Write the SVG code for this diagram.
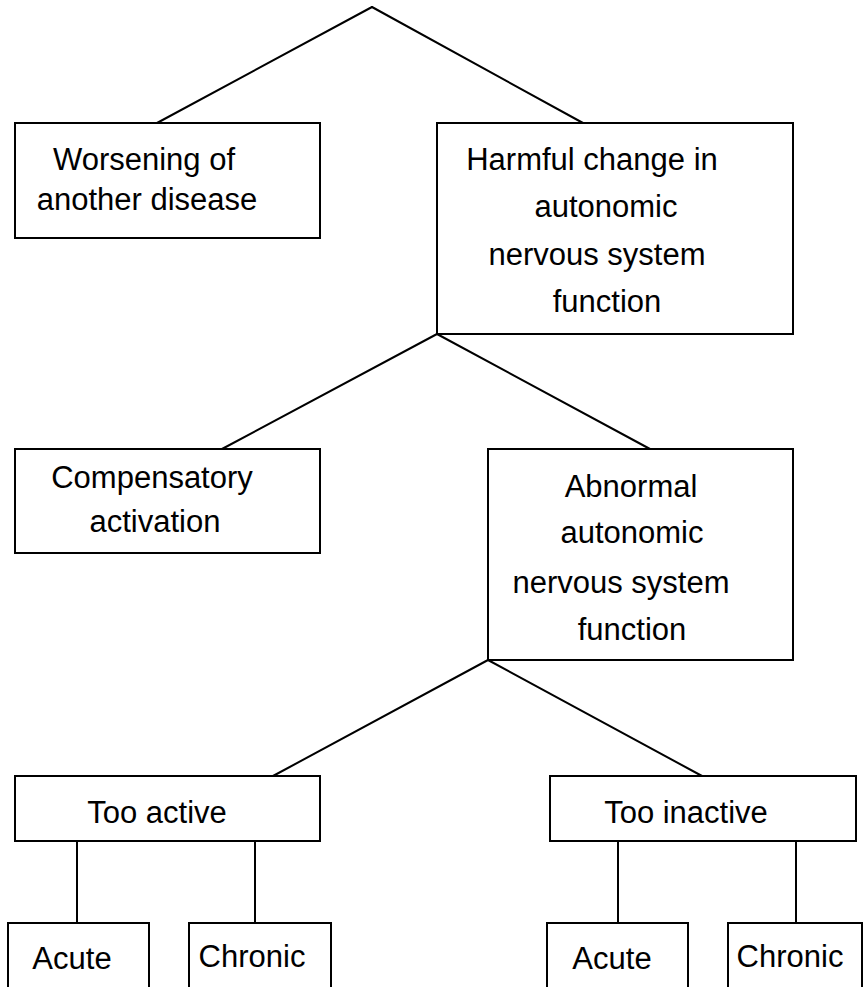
<svg xmlns="http://www.w3.org/2000/svg" width="864" height="987" viewBox="0 0 864 987">
<style>
rect{fill:#fff;stroke:#000;stroke-width:2}
line{stroke:#000;stroke-width:2;stroke-linecap:round}
text{font-family:"Liberation Sans",Arial,sans-serif;font-size:31px;fill:#000;text-anchor:middle}
</style>
<rect x="0" y="0" width="864" height="987" style="stroke:none"/>
<g id="connectors">
<line x1="372" y1="7" x2="157" y2="123"/>
<line x1="372" y1="7" x2="583" y2="123"/>
<line x1="437" y1="334" x2="222" y2="449"/>
<line x1="437" y1="334" x2="650" y2="449"/>
<line x1="488" y1="660" x2="273" y2="776"/>
<line x1="488" y1="660" x2="702" y2="776"/>
<line x1="77" y1="841" x2="77" y2="923"/>
<line x1="255" y1="841" x2="255" y2="923"/>
<line x1="618" y1="841" x2="618" y2="923"/>
<line x1="796" y1="841" x2="796" y2="923"/>
</g>
<g id="worsening">
<rect x="15" y="123" width="305" height="115"/>
<text x="144" y="170">Worsening of</text>
<text x="147" y="210">another disease</text>
</g>
<g id="harmful">
<rect x="437" y="123" width="356" height="211"/>
<text x="592" y="170">Harmful change in</text>
<text x="606" y="217">autonomic</text>
<text x="597" y="265">nervous system</text>
<text x="607" y="312">function</text>
</g>
<g id="compensatory">
<rect x="15" y="449" width="305" height="104"/>
<text x="152" y="488">Compensatory</text>
<text x="155" y="532">activation</text>
</g>
<g id="abnormal">
<rect x="488" y="449" width="305" height="211"/>
<text x="631" y="497">Abnormal</text>
<text x="632" y="543">autonomic</text>
<text x="621" y="593">nervous system</text>
<text x="632" y="640">function</text>
</g>
<g id="too-active">
<rect x="15" y="776" width="305" height="65"/>
<text x="157" y="823">Too active</text>
</g>
<g id="too-inactive">
<rect x="550" y="776" width="306" height="65"/>
<text x="686" y="823">Too inactive</text>
</g>
<g id="acute-1">
<rect x="8" y="923" width="141" height="90"/>
<text x="72" y="969">Acute</text>
</g>
<g id="chronic-1">
<rect x="189" y="923" width="142" height="90"/>
<text x="252" y="967">Chronic</text>
</g>
<g id="acute-2">
<rect x="547" y="923" width="141" height="90"/>
<text x="612" y="969">Acute</text>
</g>
<g id="chronic-2">
<rect x="728" y="923" width="134" height="90"/>
<text x="790" y="967">Chronic</text>
</g>
</svg>
